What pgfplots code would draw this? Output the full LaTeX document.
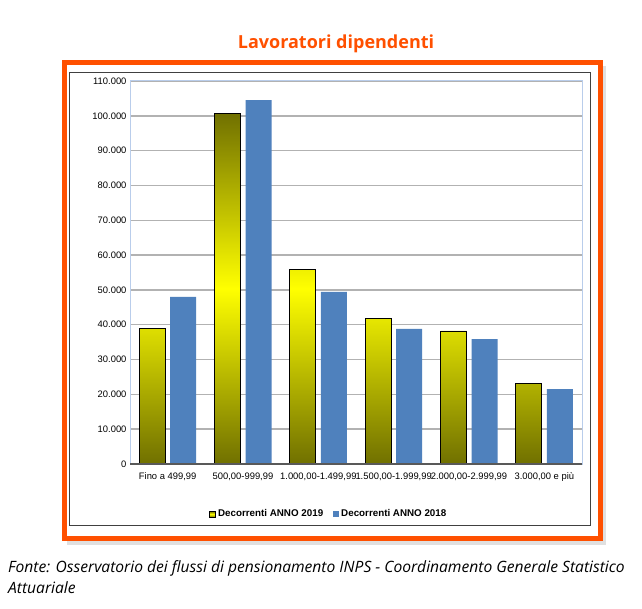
\documentclass[border=0pt]{standalone}
\usepackage{fontspec}
\setmainfont{Liberation Sans}
\newfontfamily\titlefont{Open Sans}
\usepackage{pgfplots}
\pgfplotsset{compat=1.18}
\definecolor{frameorange}{RGB}{255,80,0}
\definecolor{olivedark}{RGB}{112,112,0}
\definecolor{baryellow}{RGB}{255,255,0}
\definecolor{barblue}{RGB}{79,129,189}
\definecolor{gridgray}{RGB}{178,178,178}
\definecolor{borderblue}{RGB}{185,205,235}
\begin{document}
\begin{tikzpicture}[x=1pt,y=1pt]
\path[use as bounding box] (0,0) rectangle (642,608);
% shadow
\fill[black!12] (67,63) rectangle (606,542);
\fill[white] (64.5,69.5) rectangle (600.5,545.5);
\draw[frameorange, line width=5pt] (64.5,69.5) rectangle (600.5,545.5);
\draw[black!75, line width=0.8pt] (69.5,83) rectangle (590.5,536);
\node[anchor=base, text=frameorange, font=\titlefont\bfseries\fontsize{18}{21}\selectfont] at (336,559) {Lavoratori dipendenti};
\node[anchor=base west, inner sep=0pt, font=\titlefont\itshape\fontsize{15.6}{18}\selectfont] at (8,36) {Fonte: Osservatorio dei flussi di pensionamento INPS - Coordinamento Generale Statistico};
\node[anchor=base west, inner sep=0pt, font=\titlefont\itshape\fontsize{15.6}{18}\selectfont] at (8,15) {Attuariale};
\begin{axis}[
  at={(130pt,144pt)}, anchor=south west,
  scale only axis, width=452pt, height=383pt,
  xmin=-0.5, xmax=5.5, ymin=0, ymax=110000,
  ytick={0,10000,...,110000},
  scaled y ticks=false,
  yticklabel style={font=\fontsize{9.4}{11}\selectfont, /pgf/number format/.cd,1000 sep={.},fixed},
  xtick={0,...,5},
  xticklabels={Fino a 499{,}99, 500{,}00-999{,}99, 1.000{,}00-1.499{,}99, 1.500{,}00-1.999{,}99, 2.000{,}00-2.999{,}99, 3.000{,}00 e più},
  xticklabel style={font=\fontsize{9.4}{11}\selectfont, yshift=-5pt},
  /pgf/number format/assume math mode=true,
  major tick length=0pt,
  ymajorgrids, grid style={gridgray, line width=1.4pt},
  axis line style={borderblue, line width=1pt},
  ybar=5pt, bar width=26pt,
  legend style={at={(0.44,-0.131)}, anchor=center, draw=none, legend columns=2,
    font=\bfseries\fontsize{9.8}{11}\selectfont,
    /tikz/every even column/.append style={column sep=8pt}},
  legend cell align=left,
]
\addplot[draw=black, line width=0.8pt, top color=olivedark, bottom color=olivedark, middle color=baryellow,
  legend image code/.code={\draw[fill=baryellow,draw=black,line width=0.7pt] (0pt,-3pt) rectangle (6pt,3pt);}]
  coordinates {(0,39000) (1,100800) (2,56000) (3,41900) (4,38200) (5,23200)};
\addlegendentry{Decorrenti ANNO 2019}
\addplot[draw=none, fill=barblue,
  legend image code/.code={\fill[barblue] (0pt,-3pt) rectangle (6pt,3pt);}]
  coordinates {(0,48000) (1,104500) (2,49400) (3,38800) (4,35900) (5,21500)};
\addlegendentry{Decorrenti ANNO 2018}
\draw[black!65, line width=1.2pt] (axis cs:-0.5,0) -- (axis cs:5.5,0);
\end{axis}
\end{tikzpicture}
\end{document}
